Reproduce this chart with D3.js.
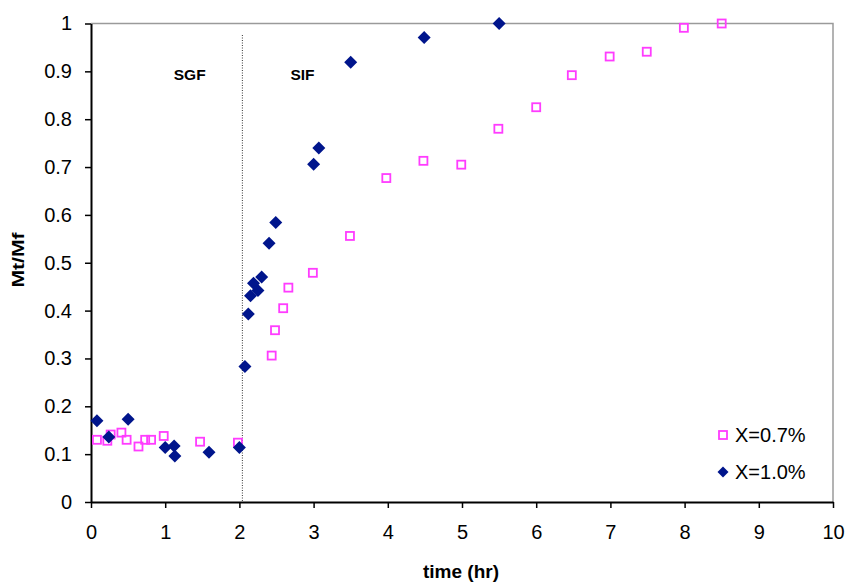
<!DOCTYPE html>
<html>
<head>
<meta charset="utf-8">
<script src="https://cdn.jsdelivr.net/npm/d3@7/dist/d3.min.js"></script>
<style>
html,body{margin:0;padding:0;background:#fff;}
svg{display:block;font-family:"Liberation Sans",Arial,sans-serif;}
</style>
</head>
<body>
<svg id="chart" width="847" height="586"></svg>
<script>
// Series X=0.7% (open magenta squares)
const timeA = [0.08,0.22,0.265,0.41,0.48,0.64,0.73,0.81,0.98,1.47,1.98,2.435,2.48,2.59,2.66,2.99,3.49,3.98,4.48,4.99,5.49,6.0,6.48,6.99,7.49,7.99,8.5];
const valA  = [0.130,0.128,0.141,0.145,0.130,0.116,0.130,0.130,0.138,0.126,0.124,0.306,0.359,0.405,0.448,0.479,0.556,0.677,0.713,0.705,0.780,0.825,0.892,0.931,0.941,0.991,1.0];
// Series X=1.0% (filled navy diamonds)
const timeB = [0.08,0.24,0.50,1.00,1.12,1.13,1.59,2.00,2.075,2.12,2.15,2.19,2.25,2.30,2.40,2.49,3.00,3.07,3.50,4.49,5.50];
const valB  = [0.170,0.136,0.173,0.114,0.117,0.096,0.104,0.114,0.283,0.393,0.431,0.457,0.442,0.470,0.541,0.584,0.706,0.740,0.919,0.971,1.0];
const seriesNames = ["X=0.7%","X=1.0%"];
const xTicks = [0,1,2,3,4,5,6,7,8,9,10];
const yTicks = [0,0.1,0.2,0.3,0.4,0.5,0.6,0.7,0.8,0.9,1];
const yTickLabels = ["0","0.1","0.2","0.3","0.4","0.5","0.6","0.7","0.8","0.9","1"];
const phaseBoundary = 2.04;
const phaseLabels = [{text:"SGF", t:1.33},{text:"SIF", t:2.85}];
const xTitle = "time (hr)";
const yTitle = "Mt/Mf";

const svg = d3.select("#chart");
const L = 91, R = 833, T = 23.5, B = 502;
const x = d3.scaleLinear().domain([0,10]).range([L,R]);
const y = d3.scaleLinear().domain([0,1]).range([B,T]);

const pink = "#ff3cff", navy = "#00158c";

// top and right frame (grey)
svg.append("path")
  .attr("d", `M${L},${T}H${R}V${B}`)
  .attr("fill","none").attr("stroke","#9a9a9a").attr("stroke-width",1.5);

// phase boundary dotted line
svg.append("line")
  .attr("x1", x(phaseBoundary)).attr("x2", x(phaseBoundary))
  .attr("y1", 35).attr("y2", B)
  .attr("stroke","#333").attr("stroke-width",1).attr("stroke-dasharray","1,1.5");

// axes
const xAxis = d3.axisBottom(x).tickValues(xTicks).tickSize(6).tickSizeOuter(0).tickFormat(d3.format("d"));
const gx = svg.append("g").attr("transform",`translate(0,${B})`).call(xAxis);
gx.select(".domain").attr("stroke","#000").attr("stroke-width",2);
gx.selectAll(".tick line").attr("stroke","#000").attr("stroke-width",1.5);
gx.selectAll(".tick text").attr("font-size","20px").attr("fill","#000").attr("y",23).attr("dy","0.71em")
  .attr("font-family","'Liberation Sans',Arial,sans-serif");

const yAxis = d3.axisLeft(y).tickValues(yTicks).tickSize(6).tickSizeOuter(0).tickFormat((d,i)=>yTickLabels[i]);
const gy = svg.append("g").attr("transform",`translate(${L},0)`).call(yAxis);
gy.select(".domain").attr("stroke","#000").attr("stroke-width",2);
gy.selectAll(".tick line").attr("stroke","#000").attr("stroke-width",1.5);
gy.selectAll(".tick text").attr("font-size","20px").attr("fill","#000").attr("x",-19)
  .attr("font-family","'Liberation Sans',Arial,sans-serif");

// phase labels
svg.selectAll(".phase").data(phaseLabels).enter().append("text")
  .attr("x", d=>x(d.t)).attr("y", 80)
  .attr("text-anchor","middle").attr("font-weight","bold").attr("font-size","15.5px")
  .text(d=>d.text);

// series A squares
const sq = 8;
svg.append("g").selectAll("rect").data(timeA.map((t,i)=>[t,valA[i]])).enter().append("rect")
  .attr("x", d=>x(d[0])-sq/2).attr("y", d=>y(d[1])-sq/2)
  .attr("width", sq).attr("height", sq)
  .attr("fill","none").attr("stroke",pink).attr("stroke-width",1.8);

// series B diamonds
const dsz = 6.5;
const diamond = (cx,cy)=>`M${cx},${cy-dsz}L${cx+dsz},${cy}L${cx},${cy+dsz}L${cx-dsz},${cy}Z`;
svg.append("g").selectAll("path").data(timeB.map((t,i)=>[t,valB[i]])).enter().append("path")
  .attr("d", d=>diamond(x(d[0]), y(d[1])))
  .attr("fill",navy);

// legend
const lg = svg.append("g");
lg.append("rect").attr("x",723-4).attr("y",435-4).attr("width",8).attr("height",8)
  .attr("fill","none").attr("stroke",pink).attr("stroke-width",1.8);
lg.append("text").attr("x",735).attr("y",442).attr("font-size","20px").text(seriesNames[0]);
const ld = 5.5;
lg.append("path").attr("d",`M723,${472-ld}L${723+ld},472L723,${472+ld}L${723-ld},472Z`).attr("fill",navy);
lg.append("text").attr("x",735).attr("y",479).attr("font-size","20px").text(seriesNames[1]);

// axis titles
svg.append("text").attr("x",461).attr("y",578).attr("text-anchor","middle")
  .attr("font-weight","bold").attr("font-size","19px").text(xTitle);
svg.append("text").attr("transform","translate(24,260) rotate(-90)").attr("text-anchor","middle")
  .attr("font-weight","bold").attr("font-size","16.5px")
  .attr("textLength",55).attr("lengthAdjust","spacingAndGlyphs").text(yTitle);
</script>
</body>
</html>
